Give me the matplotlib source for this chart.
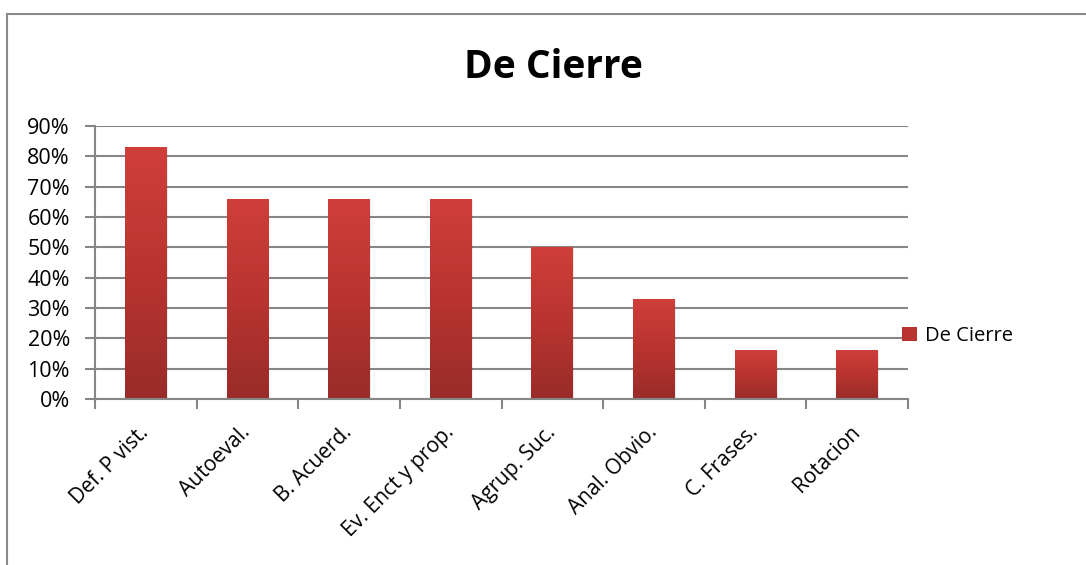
import matplotlib
matplotlib.use("Agg")
import matplotlib.pyplot as plt
import numpy as np
from matplotlib.lines import Line2D
from matplotlib.patches import Rectangle, Patch
from matplotlib.colors import LinearSegmentedColormap

categories = ["Def. P vist.", "Autoeval.", "B. Acuerd.", "Ev. Enct y prop.",
              "Agrup. Suc.", "Anal. Obvio.", "C. Frases.", "Rotacion"]
values = [0.83, 0.66, 0.66, 0.66, 0.50, 0.33, 0.16, 0.16]
series_name = "De Cierre"
yticks = [0.0, 0.1, 0.2, 0.3, 0.4, 0.5, 0.6, 0.7, 0.8, 0.9]
ytick_labels = ["0%", "10%", "20%", "30%", "40%", "50%", "60%", "70%", "80%", "90%"]

plt.rcParams['font.family'] = ['Open Sans', 'DejaVu Sans']

W, H = 1086, 565
fig = plt.figure(figsize=(W / 100, H / 100), dpi=100)
fig.patch.set_facecolor('white')

# outer chart frame (partially visible)
fig.add_artist(Line2D([7 / W, 7 / W], [0, 1 - 14 / H], transform=fig.transFigure,
                      color='#8a8a8a', lw=1.5))
fig.add_artist(Line2D([7 / W, 1], [1 - 14 / H, 1 - 14 / H], transform=fig.transFigure,
                      color='#8a8a8a', lw=1.5))

ax = fig.add_axes([95 / W, 1 - 399 / H, (908 - 95) / W, (399 - 126) / H])
n = len(categories)
x = np.arange(n)

grid_color = '#868686'
ax.set_yticks(yticks)
ax.set_yticklabels(ytick_labels, fontsize=15.5)
ax.yaxis.grid(True, color=grid_color, lw=1.5)
ax.set_axisbelow(True)
for s in ['top', 'right']:
    ax.spines[s].set_visible(False)
for s in ['left', 'bottom']:
    ax.spines[s].set_color(grid_color)
    ax.spines[s].set_linewidth(1.5)
ax.tick_params(axis='y', length=7, width=1.5, color=grid_color, pad=11, labelcolor='black')

# x ticks at category boundaries, labels at centres
ax.set_xticks(np.arange(n + 1) - 0.5)
ax.set_xticklabels([])
ax.tick_params(axis='x', which='major', length=7, width=1.5, color=grid_color, direction='out')
ax.set_xticks(x, minor=True)
ax.set_xticklabels(categories, minor=True, rotation=45, ha='right', va='center',
                   rotation_mode='anchor', fontsize=15)
ax.tick_params(axis='x', which='minor', length=0, pad=22)

cmap = LinearSegmentedColormap.from_list('bar', ['#992c29', '#b9342f', '#d03e3b'])
grad = np.linspace(0, 1, 256).reshape(-1, 1)
bar_w = 0.41
bars = ax.bar(x, values, width=bar_w, color='#b9342f', zorder=2)
for b in bars:
    x0, y0 = b.get_x(), b.get_y()
    w, h = b.get_width(), b.get_height()
    sh = Rectangle((x0 + 0.012, y0), w, h - 0.003, facecolor='black', alpha=0.08,
                   edgecolor='none', zorder=1.9)
    ax.add_patch(sh)
    im = ax.imshow(grad, cmap=cmap, aspect='auto', origin='lower',
                   extent=[x0, x0 + w, y0, y0 + h], zorder=2.5)
    im.set_clip_path(b)

ax.set_xlim(-0.5, n - 0.5)
ax.set_ylim(0, 0.9)

fig.text(553 / W, 1 - 67 / H, series_name, ha='center', va='center',
         fontsize=28, fontweight='bold')

fig.legend(handles=[Patch(facecolor='#b9342f', edgecolor='none')], labels=[series_name],
           loc='center left', bbox_to_anchor=(894 / W, 1 - 336 / H), frameon=False,
           fontsize=14.5, handlelength=0.75, handleheight=0.75, handletextpad=0.4,
           borderaxespad=0)

fig.savefig('out.png', dpi=100, facecolor='white')
